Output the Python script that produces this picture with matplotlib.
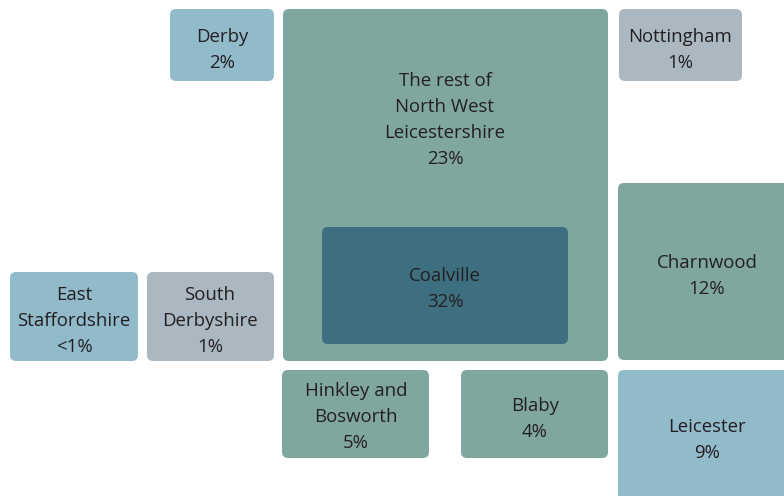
import matplotlib.pyplot as plt
from matplotlib.patches import FancyBboxPatch

# area names and share of trips
names = ["Derby", "The rest of\nNorth West\nLeicestershire", "Nottingham",
         "Coalville", "Charnwood", "East\nStaffordshire", "South\nDerbyshire",
         "Hinkley and\nBosworth", "Blaby", "Leicester"]
shares = ["2%", "23%", "1%", "32%", "12%", "<1%", "1%", "5%", "4%", "9%"]

# layout in pixels: x0, y0, x1, y1, text x, text y (centre of text block)
layout = [
    (170, 9, 274, 81, 222, 50),
    (283, 9, 608, 361, 445, 120),
    (619, 9, 742, 81, 680, 50),
    (322, 227, 568, 344, 445, 289),
    (618, 183, 790, 360, 707, 276),
    (10, 272, 138, 361, 74, 321),
    (147, 272, 274, 361, 210, 321),
    (282, 370, 429, 458, 356, 417),
    (461, 370, 608, 458, 535, 419),
    (618, 370, 790, 505, 707, 440),
]

GREEN = "#7fa7a0"
BLUE = "#91bacb"
GREY = "#abb8c2"
DARK = "#3d6f80"
colours = [BLUE, GREEN, GREY, DARK, GREEN, BLUE, GREY, GREEN, GREEN, BLUE]

fig = plt.figure(figsize=(7.84, 4.96), dpi=100)
ax = fig.add_axes([0, 0, 1, 1])
ax.set_xlim(0, 784)
ax.set_ylim(496, 0)
ax.axis("off")

for name, share, box, col in zip(names, shares, layout, colours):
    x0, y0, x1, y1, tx, ty = box
    p = FancyBboxPatch((x0, y0), x1 - x0, y1 - y0,
                       boxstyle="round,pad=0,rounding_size=6",
                       facecolor=col, edgecolor="none")
    ax.add_patch(p)
    ax.text(tx, ty, name + "\n" + share, ha="center", va="center",
            fontsize=13.4, family="Open Sans", color="#231f20",
            linespacing=1.57)

fig.savefig("out.png", dpi=100)
